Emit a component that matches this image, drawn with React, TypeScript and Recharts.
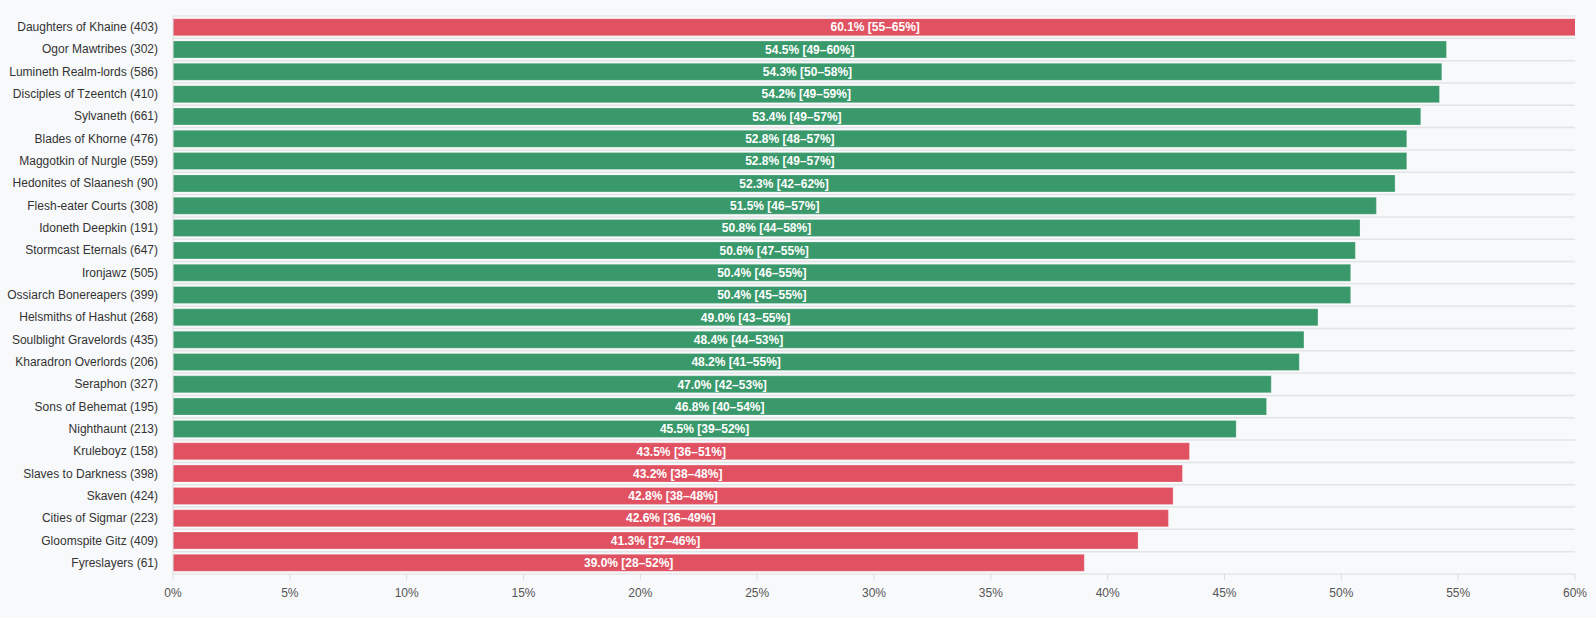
import { BarChart, Bar, XAxis, YAxis, CartesianGrid, Cell, LabelList } from 'recharts';

const factions = [
  'Daughters of Khaine',
  'Ogor Mawtribes',
  'Lumineth Realm-lords',
  'Disciples of Tzeentch',
  'Sylvaneth',
  'Blades of Khorne',
  'Maggotkin of Nurgle',
  'Hedonites of Slaanesh',
  'Flesh-eater Courts',
  'Idoneth Deepkin',
  'Stormcast Eternals',
  'Ironjawz',
  'Ossiarch Bonereapers',
  'Helsmiths of Hashut',
  'Soulblight Gravelords',
  'Kharadron Overlords',
  'Seraphon',
  'Sons of Behemat',
  'Nighthaunt',
  'Kruleboyz',
  'Slaves to Darkness',
  'Skaven',
  'Cities of Sigmar',
  'Gloomspite Gitz',
  'Fyreslayers',
];
const games = [403, 302, 586, 410, 661, 476, 559, 90, 308, 191, 647, 505, 399, 268, 435, 206, 327, 195, 213, 158, 398, 424, 223, 409, 61];
const winRate = [60.1, 54.5, 54.3, 54.2, 53.4, 52.8, 52.8, 52.3, 51.5, 50.8, 50.6, 50.4, 50.4, 49.0, 48.4, 48.2, 47.0, 46.8, 45.5, 43.5, 43.2, 42.8, 42.6, 41.3, 39.0];
const ciLow = [55, 49, 50, 49, 49, 48, 49, 42, 46, 44, 47, 46, 45, 43, 44, 41, 42, 40, 39, 36, 38, 38, 36, 37, 28];
const ciHigh = [65, 60, 58, 59, 57, 57, 57, 62, 57, 58, 55, 55, 55, 55, 53, 55, 53, 54, 52, 51, 48, 48, 49, 46, 52];
const xTicks = [0, 5, 10, 15, 20, 25, 30, 35, 40, 45, 50, 55, 60];

const RED = '#e05262';
const GREEN = '#3a996b';

const data = factions.map((f, i) => ({
  name: `${f} (${games[i]})`,
  winRate: winRate[i],
  label: `${winRate[i].toFixed(1)}% [${ciLow[i]}–${ciHigh[i]}%]`,
}));

const colorFor = (v: number) => (v > 55 || v < 45 ? RED : GREEN);

// plain single-line tick, recharts' Text would wrap the long names
const FactionTick = ({ x, y, payload }: any) => (
  <text x={x} y={y} dy={4} textAnchor="end" fill="#333" fontSize={12}>
    {payload.value}
  </text>
);

export default function App() {
  return (
    <div
      style={{
        position: 'absolute',
        left: 0,
        top: 0,
        width: 1596,
        height: 618,
        background: '#f8f9fb',
        fontFamily: '"Liberation Sans", Arial, sans-serif',
      }}
    >
      <BarChart
        width={1596}
        height={618}
        data={data}
        layout="vertical"
        margin={{ top: 16, right: 21, bottom: 14, left: 0 }}
        barCategoryGap="12%"
      >
        <CartesianGrid
          vertical={false}
          stroke="#e3e4e6"
          strokeWidth={1.5}
          horizontalCoordinatesGenerator={({ offset }: any) =>
            data.map((_, i) => offset.top + (i * offset.height) / data.length)
          }
        />
        <XAxis
          type="number"
          domain={[0, 60]}
          ticks={xTicks}
          tickFormatter={(v: number) => `${v}%`}
          height={30}
          tickSize={6}
          tickMargin={8}
          stroke="#dcdde0"
          tick={{ fill: '#555', fontSize: 12 }}
          allowDataOverflow
        />
        <YAxis
          type="category"
          dataKey="name"
          width={173}
          tickLine={false}
          tickSize={0}
          tickMargin={15}
          interval={0}
          stroke="#dcdde0"
          tick={<FactionTick />}
        />
        <Bar dataKey="winRate" isAnimationActive={false}>
          {data.map((d) => (
            <Cell key={d.name} fill={colorFor(d.winRate)} stroke="rgba(255,255,255,0.25)" />
          ))}
          <LabelList dataKey="label" position="center" fill="#fff" fontSize={12} fontWeight="bold" />
        </Bar>
      </BarChart>
    </div>
  );
}
